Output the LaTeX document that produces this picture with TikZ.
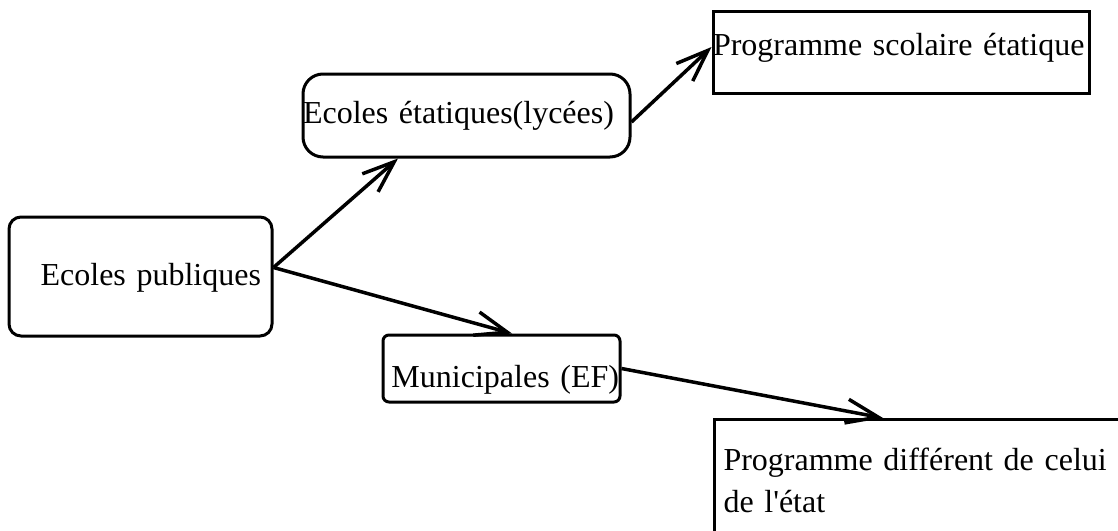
\documentclass[tikz,border=0pt]{standalone}
\usepackage{fontspec}
\setmainfont{Liberation Serif}
\usetikzlibrary{arrows.meta,calc}
\begin{document}
\begin{tikzpicture}[x=1pt,y=-1pt,
  box/.style={draw, line width=3pt, inner sep=0pt, font=\fontsize{32}{42}\selectfont},
  conn/.style={line width=3.5pt, -{Straight Barb[length=32pt,width=24pt]}}]
\useasboundingbox (0,0) rectangle (1118,530);
\node[box, rounded corners=12pt, minimum width=263pt, minimum height=119pt, text width=241pt, align=right, text height=24pt, text depth=7pt] (pub) at (140.5,276.5) {Ecoles publiques};
\node[box, rounded corners=20pt, minimum width=327pt, minimum height=83pt, text width=327pt, align=left, text height=22pt, text depth=7pt] (eta) at (466.5,115.5) {Ecoles étatiques(lycées)};
\node[box, minimum width=376pt, minimum height=82pt, text width=376pt, align=left, text height=22pt, text depth=16pt] (psc) at (901,52) {Programme scolaire étatique};
\node[box, rounded corners=6pt, minimum width=237pt, minimum height=67pt, text width=235pt, align=right, text height=37pt, text depth=0pt] (mun) at (501.5,368.5) {Municipales (EF)};
\node[box, anchor=north west, inner xsep=9pt, inner ysep=28pt, text width=420pt, align=left] (pdf) at (713,418) {Programme différent de celui\\de l\textquotesingle état};
\draw[conn] ([yshift=9pt]pub.east) -- ([xshift=-68.5pt]eta.south);
\draw[conn] ([yshift=-6.5pt]eta.east) -- ([yshift=5pt]psc.west);
\draw[conn] ([yshift=9pt]pub.east) -- ([xshift=10.5pt]mun.north);
\draw[conn] (mun.east) -- ([xshift=170pt]pdf.north west);
\end{tikzpicture}
\end{document}
